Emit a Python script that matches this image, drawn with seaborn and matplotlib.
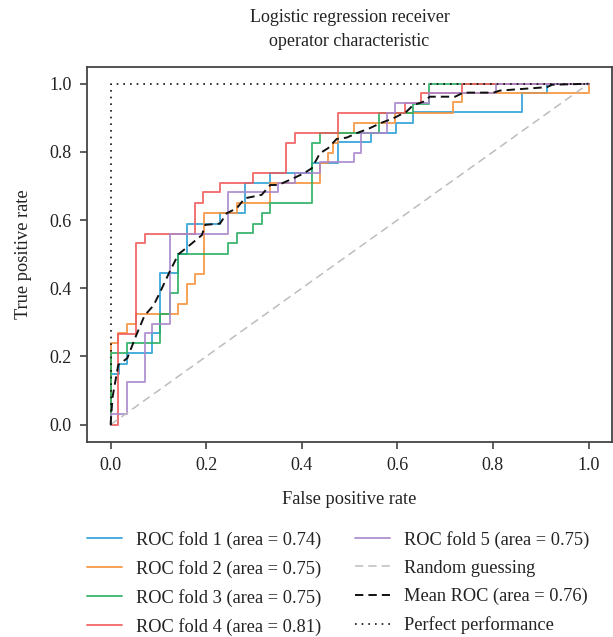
import matplotlib
matplotlib.use("Agg")
import matplotlib.pyplot as plt
import seaborn as sns
import pandas as pd

# ---------------- data ----------------
fold1_fpr = [0.0, 0.0, 0.018, 0.018, 0.035, 0.035, 0.086, 0.086, 0.104, 0.104, 0.142, 0.142, 0.159, 0.159,
             0.229, 0.229, 0.281, 0.281, 0.334, 0.334, 0.421, 0.421, 0.475, 0.475, 0.545, 0.545, 0.597, 0.597,
             0.632, 0.632, 0.860, 0.860, 0.913, 0.913, 1.0]
fold1_tpr = [0.0, 0.15, 0.15, 0.177, 0.177, 0.209, 0.209, 0.269, 0.269, 0.444, 0.444, 0.502, 0.502, 0.59,
             0.59, 0.62, 0.62, 0.708, 0.708, 0.738, 0.738, 0.767, 0.767, 0.828, 0.828, 0.855, 0.855, 0.884,
             0.884, 0.916, 0.916, 0.974, 0.974, 1.0, 1.0]

fold2_fpr = [0.0, 0.0, 0.016, 0.016, 0.034, 0.034, 0.053, 0.053, 0.142, 0.142, 0.159, 0.159, 0.177, 0.177,
             0.195, 0.195, 0.264, 0.264, 0.334, 0.334, 0.438, 0.438, 0.455, 0.455, 0.466, 0.466, 0.475, 0.475,
             0.509, 0.509, 0.595, 0.595, 0.717, 0.717, 0.736, 0.736, 1.0, 1.0]
fold2_tpr = [0.0, 0.24, 0.24, 0.269, 0.269, 0.296, 0.296, 0.325, 0.325, 0.355, 0.355, 0.414, 0.414, 0.443,
             0.443, 0.62, 0.62, 0.649, 0.649, 0.708, 0.708, 0.767, 0.767, 0.796, 0.796, 0.825, 0.825, 0.855,
             0.855, 0.884, 0.884, 0.915, 0.915, 0.945, 0.945, 0.974, 0.974, 1.0]

fold3_fpr = [0.0, 0.0, 0.0, 0.035, 0.035, 0.104, 0.104, 0.124, 0.124, 0.142, 0.142, 0.246, 0.246, 0.264,
             0.264, 0.299, 0.299, 0.316, 0.316, 0.334, 0.334, 0.421, 0.421, 0.438, 0.438, 0.562, 0.562, 0.632,
             0.632, 0.667, 0.667, 1.0]
fold3_tpr = [0.0, 0.032, 0.211, 0.211, 0.24, 0.24, 0.326, 0.326, 0.385, 0.385, 0.502, 0.502, 0.534, 0.534,
             0.561, 0.561, 0.59, 0.59, 0.62, 0.62, 0.651, 0.651, 0.825, 0.825, 0.855, 0.855, 0.914, 0.914,
             0.942, 0.942, 1.0, 1.0]

fold4_fpr = [0.0, 0.016, 0.016, 0.053, 0.053, 0.071, 0.071, 0.177, 0.177, 0.194, 0.194, 0.229, 0.229, 0.299,
             0.299, 0.368, 0.368, 0.386, 0.386, 0.475, 0.475, 0.615, 0.615, 0.649, 0.649, 0.736, 0.736, 1.0]
fold4_tpr = [0.0, 0.0, 0.267, 0.267, 0.534, 0.534, 0.559, 0.559, 0.651, 0.651, 0.681, 0.681, 0.708, 0.708,
             0.738, 0.738, 0.826, 0.826, 0.855, 0.855, 0.914, 0.914, 0.943, 0.943, 0.974, 0.974, 1.0, 1.0]

fold5_fpr = [0.0, 0.0, 0.035, 0.035, 0.071, 0.071, 0.086, 0.086, 0.124, 0.124, 0.246, 0.246, 0.351, 0.351,
             0.386, 0.386, 0.438, 0.438, 0.509, 0.509, 0.525, 0.525, 0.578, 0.578, 0.595, 0.595, 0.667, 0.667,
             0.806, 0.806, 1.0]
fold5_tpr = [0.0, 0.032, 0.032, 0.125, 0.125, 0.269, 0.269, 0.296, 0.296, 0.559, 0.559, 0.681, 0.681, 0.708,
             0.708, 0.738, 0.738, 0.769, 0.769, 0.796, 0.796, 0.855, 0.855, 0.914, 0.914, 0.943, 0.943, 0.974,
             0.974, 1.0, 1.0]

mean_fpr = [0.0, 0.004, 0.016, 0.035, 0.053, 0.071, 0.09, 0.104, 0.124, 0.142, 0.166, 0.191, 0.198, 0.229,
            0.243, 0.264, 0.281, 0.316, 0.334, 0.351, 0.383, 0.404, 0.421, 0.438, 0.455, 0.473, 0.494, 0.515,
            0.543, 0.564, 0.592, 0.619, 0.633, 0.654, 0.668, 0.721, 0.738, 0.801, 0.815, 0.913, 0.924, 1.0]
mean_tpr = [0.0, 0.08, 0.175, 0.195, 0.26, 0.32, 0.35, 0.39, 0.45, 0.50, 0.527, 0.556, 0.586, 0.59,
            0.62, 0.635, 0.664, 0.674, 0.703, 0.703, 0.723, 0.737, 0.752, 0.796, 0.811, 0.838, 0.842, 0.855,
            0.87, 0.884, 0.899, 0.918, 0.937, 0.947, 0.962, 0.962, 0.974, 0.974, 0.98, 0.99, 0.997, 1.0]

chance_fpr = [0.0, 1.0]
chance_tpr = [0.0, 1.0]
perfect_fpr = [0.0, 0.0, 1.0]
perfect_tpr = [0.0, 1.0, 1.0]

fold_aucs = [0.74, 0.75, 0.75, 0.81, 0.75]
mean_auc = 0.76
fold_colors = ["#2a9fd6", "#f7913a", "#27ae60", "#f05a5a", "#a987cc"]

title = "Logistic regression receiver\noperator characteristic"
xlabel = "False positive rate"
ylabel = "True positive rate"
ticks = [0.0, 0.2, 0.4, 0.6, 0.8, 1.0]

# ---------------- style ----------------
sns.set_theme(style="white")
plt.rcParams["font.family"] = ["Liberation Serif", "DejaVu Serif"]
plt.rcParams["axes.edgecolor"] = "#333333"
plt.rcParams["text.color"] = "#222222"
plt.rcParams["axes.labelcolor"] = "#222222"
plt.rcParams["xtick.color"] = "#222222"
plt.rcParams["ytick.color"] = "#222222"

W, H = 613, 637
fig = plt.figure(figsize=(W / 100, H / 100), dpi=100)
ax = fig.add_axes([86.7 / W, 1 - 441.7 / H, (612.4 - 86.7) / W, (441.7 - 66.7) / H])

folds = [(fold1_fpr, fold1_tpr), (fold2_fpr, fold2_tpr), (fold3_fpr, fold3_tpr),
         (fold4_fpr, fold4_tpr), (fold5_fpr, fold5_tpr)]
for i, ((f, t), auc, c) in enumerate(zip(folds, fold_aucs, fold_colors)):
    df = pd.DataFrame({"fpr": f, "tpr": t})
    sns.lineplot(data=df, x="fpr", y="tpr", sort=False, estimator=None, ax=ax,
                 color=c, lw=1.4, alpha=0.85,
                 label=f"ROC fold {i + 1} (area = {auc:.2f})")

sns.lineplot(x=chance_fpr, y=chance_tpr, sort=False, estimator=None, ax=ax,
             color="#bdbdbd", lw=1.1, linestyle=(0, (5.4, 3.3)), label="Random guessing")
sns.lineplot(x=mean_fpr, y=mean_tpr, sort=False, estimator=None, ax=ax,
             color="#111111", lw=1.4, linestyle=(0, (4.3, 2.6)),
             label=f"Mean ROC (area = {mean_auc:.2f})")
sns.lineplot(x=perfect_fpr, y=perfect_tpr, sort=False, estimator=None, ax=ax,
             color="#111111", lw=1.2, linestyle=(0, (1, 3)), label="Perfect performance")

ax.set_xlim(-0.05, 1.05)
ax.set_ylim(-0.05, 1.05)
ax.set_xticks(ticks)
ax.set_yticks(ticks)
ax.set_xticklabels([f"{v:.1f}" for v in ticks])
ax.set_yticklabels([f"{v:.1f}" for v in ticks])
ax.tick_params(axis="both", which="major", direction="out", length=5, width=1.1,
               labelsize=13, pad=6, bottom=True, left=True, color="#333333")
for s in ax.spines.values():
    s.set_linewidth(1.3)
    s.set_color("#444444")

ax.set_xlabel(xlabel, fontsize=13.2, labelpad=12)
ax.set_ylabel(ylabel, fontsize=13.2, labelpad=12)
fig.text(349.5 / W, 1 - 29.5 / H, title, ha="center", va="center", fontsize=13,
         linespacing=1.5)

handles, labels = ax.get_legend_handles_labels()
ax.get_legend().remove()
fs = 13.2
fpx = fs * 100 / 72
fig.legend(handles, labels, loc="upper left", ncol=2, frameon=False,
           bbox_to_anchor=(87.3 / W, 1 - 531 / H), bbox_transform=fig.transFigure,
           fontsize=fs, borderpad=0, borderaxespad=0,
           handlelength=35 / fpx, handletextpad=14 / fpx, columnspacing=33 / fpx,
           labelspacing=(29.3 - fpx) / fpx)

fig.savefig("out.png", dpi=100)
